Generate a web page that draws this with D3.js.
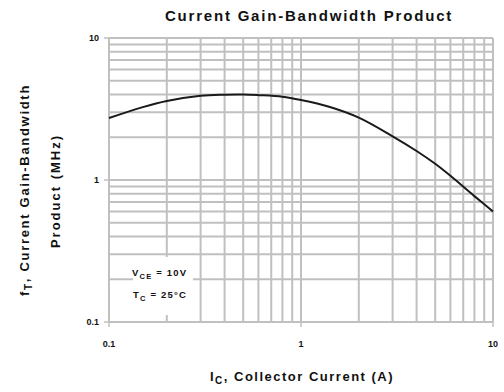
<!DOCTYPE html>
<html>
<head>
<meta charset="utf-8">
<script src="https://cdn.jsdelivr.net/npm/d3@7"></script>
<style>
  body { margin: 0; background: #fff; }
  text { font-family: "Liberation Sans", Arial, sans-serif; font-weight: bold; fill: #111; }
</style>
</head>
<body>
<svg id="chart" width="504" height="392"></svg>
<script>
// collector current (A) and fT (MHz)
const collectorCurrent = [0.1, 0.15, 0.2, 0.3, 0.4, 0.5, 0.6, 0.8, 1, 1.4, 2, 3, 4, 5, 6, 8, 10];
const gainBandwidth = [2.73, 3.26, 3.6, 3.92, 3.99, 4.0, 3.96, 3.86, 3.66, 3.28, 2.75, 2.03, 1.6, 1.3, 1.07, 0.77, 0.6];

const xTicks = [0.1, 1, 10];
const yTicks = [0.1, 1, 10];
const xTickLabels = ["0.1", "1", "10"];
const yTickLabels = ["0.1", "1", "10"];

const svg = d3.select("#chart");
const margin = { top: 38, right: 11, bottom: 70, left: 109 };
const width = 504 - margin.left - margin.right;
const height = 392 - margin.top - margin.bottom;

const x = d3.scaleLog().domain([0.1, 10]).range([0, width]);
const y = d3.scaleLog().domain([0.1, 10]).range([height, 0]);

const g = svg.append("g").attr("transform", `translate(${margin.left},${margin.top})`);

// grid lines at every 1..9 per decade
const gridVals = [];
[0.1, 1].forEach(dec => { for (let k = 1; k <= 10; k++) gridVals.push(+(dec * k).toFixed(2)); });
const grid = Array.from(new Set(gridVals));

g.append("g").selectAll("line").data(grid).join("line")
  .attr("x1", d => x(d)).attr("x2", d => x(d))
  .attr("y1", 0).attr("y2", height)
  .attr("stroke", "#c0c0c0").attr("stroke-width", 2);

g.append("g").selectAll("line").data(grid).join("line")
  .attr("x1", 0).attr("x2", width)
  .attr("y1", d => y(d)).attr("y2", d => y(d))
  .attr("stroke", "#c0c0c0").attr("stroke-width", 2);

// white box behind the conditions note
g.append("rect")
  .attr("x", 24).attr("y", 219)
  .attr("width", 60).attr("height", 58)
  .attr("fill", "#fff");

// axis ticks
g.append("g").selectAll("line").data(yTicks).join("line")
  .attr("x1", -5).attr("x2", 0)
  .attr("y1", d => y(d)).attr("y2", d => y(d))
  .attr("stroke", "#c0c0c0").attr("stroke-width", 1.5);
g.append("g").selectAll("line").data(xTicks).join("line")
  .attr("x1", d => x(d)).attr("x2", d => x(d))
  .attr("y1", height).attr("y2", height + 5)
  .attr("stroke", "#c0c0c0").attr("stroke-width", 1.5);

// tick labels
g.append("g").selectAll("text").data(yTicks).join("text")
  .attr("x", -10).attr("y", d => y(d) + 3)
  .attr("text-anchor", "end")
  .attr("font-size", 9)
  .text((d, i) => yTickLabels[i]);
g.append("g").selectAll("text").data(xTicks).join("text")
  .attr("x", d => x(d)).attr("y", height + 25)
  .attr("text-anchor", "middle")
  .attr("font-size", 9)
  .text((d, i) => xTickLabels[i]);

// the curve
const line = d3.line()
  .x((d, i) => x(collectorCurrent[i]))
  .y(d => y(d))
  .curve(d3.curveCatmullRom.alpha(0.5));

g.append("path")
  .datum(gainBandwidth)
  .attr("d", line)
  .attr("fill", "none")
  .attr("stroke", "#1a1a1a")
  .attr("stroke-width", 2);

// conditions note
const note = g.append("g").attr("font-size", 9.5).attr("letter-spacing", 1.2);
const t1 = note.append("text").attr("x", 23).attr("y", 238);
t1.append("tspan").text("V");
t1.append("tspan").attr("font-size", 7.5).attr("dy", 3).text("CE");
t1.append("tspan").attr("dy", -3).text(" = 10V");
const t2 = note.append("text").attr("x", 24).attr("y", 260);
t2.append("tspan").text("T");
t2.append("tspan").attr("font-size", 7.5).attr("dy", 3).text("C");
t2.append("tspan").attr("dy", -3).text(" = 25°C");

// title
svg.append("text")
  .attr("x", 309).attr("y", 21)
  .attr("text-anchor", "middle")
  .attr("font-size", 15)
  .attr("letter-spacing", 1.8)
  .text("Current Gain-Bandwidth Product");

// x axis label
const xl = svg.append("text")
  .attr("x", 302).attr("y", 381)
  .attr("text-anchor", "middle")
  .attr("font-size", 13)
  .attr("letter-spacing", 1.5);
xl.append("tspan").text("I");
xl.append("tspan").attr("font-size", 10).attr("dy", 3).text("C");
xl.append("tspan").attr("dy", -3).text(", Collector Current (A)");

// y axis label, two lines
const yl1 = svg.append("text")
  .attr("transform", "translate(29,190) rotate(-90)")
  .attr("text-anchor", "middle")
  .attr("font-size", 13)
  .attr("letter-spacing", 1.7);
yl1.append("tspan").text("f");
yl1.append("tspan").attr("font-size", 10).attr("dy", 3).text("T");
yl1.append("tspan").attr("dy", -3).text(", Current Gain-Bandwidth");

svg.append("text")
  .attr("transform", "translate(60,191) rotate(-90)")
  .attr("text-anchor", "middle")
  .attr("font-size", 13)
  .attr("letter-spacing", 2)
  .text("Product (MHz)");
</script>
</body>
</html>
